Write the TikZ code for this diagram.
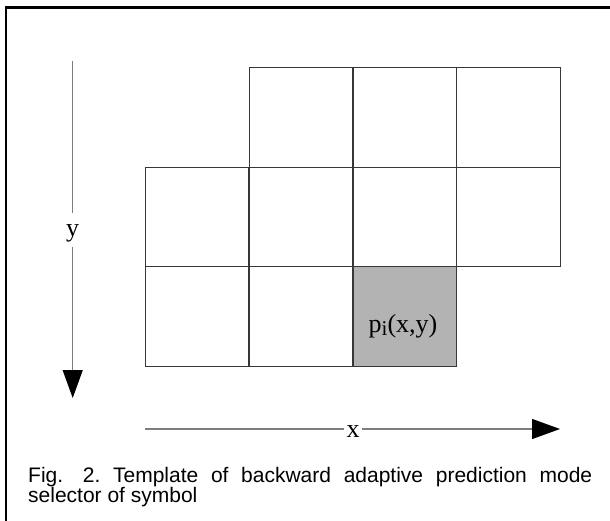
\documentclass[tikz,border=0pt]{standalone}
\usepackage{fontspec}
\setmainfont{Liberation Serif}
\newfontfamily\capfont{Liberation Sans}
\usetikzlibrary{arrows.meta}
\definecolor{gridline}{RGB}{55,55,55}
\definecolor{axisgray}{RGB}{125,125,125}
\definecolor{cellgray}{RGB}{179,179,179}
\tikzset{
  cell/.style={draw=gridline, line width=1.1pt, minimum width=103.75pt, minimum height=99.4pt, inner sep=0pt, outer sep=0pt},
  axisline/.style={draw=axisgray, line width=1.2pt},
  axistip/.style={-{Triangle[length=28pt,width=20pt,color=black]}},
  axislabel/.style={font=\fontsize{26}{26}\selectfont, inner sep=0pt},
  frameline/.style={line width=2.4pt, draw=black}
}
\begin{document}
\begin{tikzpicture}[x=1pt,y=-1pt]
\useasboundingbox (0,0) rectangle (610,521);
\clip (0,0) rectangle (610,521);
% frame (top and left edges)
\coordinate (fcorner) at (6,7.5);
\coordinate (fright) at (620,7.5);
\coordinate (fbottom) at (6,530);
\draw[frameline] (fright) -- (fcorner) -- (fbottom);
% grid cells
\node[cell] (c12) at (301,117.5) {};
\node[cell] (c13) at (405,117.5) {};
\node[cell] (c14) at (508.5,117.5) {};
\node[cell] (c21) at (197,217) {};
\node[cell] (c22) at (301,217) {};
\node[cell] (c23) at (405,217) {};
\node[cell] (c24) at (508.5,217) {};
\node[cell] (c31) at (197,316.5) {};
\node[cell] (c32) at (301,316.5) {};
\node[cell, fill=cellgray] (c33) at (405,316.5) {};
\node[axislabel, anchor=base] (plab) at (403,332) {p\raisebox{-3pt}{\fontsize{21}{21}\selectfont i}(x,y)};
% y axis
\coordinate (ytop) at (72.7,60.7);
\coordinate (ybot) at (72.7,398);
\node[axislabel, anchor=base, text height=23.7pt, text depth=10.3pt] (ylab) at (72.7,236.7) {y};
\draw[axisline] (ytop) -- (ytop |- ylab.north);
\draw[axisline, axistip] (ybot |- ylab.south) -- (ybot);
% x axis
\coordinate (xleft) at (145,429);
\coordinate (xright) at (560,429);
\node[axislabel, anchor=base, inner xsep=2.5pt] (xlab) at (353,437) {x};
\draw[axisline] (xleft) -- (xlab.west |- xleft);
\draw[axisline, axistip] (xlab.east |- xright) -- (xright);
% caption
\node[anchor=base west, inner sep=0pt] (cap) at (28,482) {\parbox[t]{564pt}{\capfont\fontsize{21}{20}\selectfont\frenchspacing Fig.\hspace{7pt} 2. Template of backward adaptive prediction mode\linebreak selector of symbol}};
\end{tikzpicture}
\end{document}
